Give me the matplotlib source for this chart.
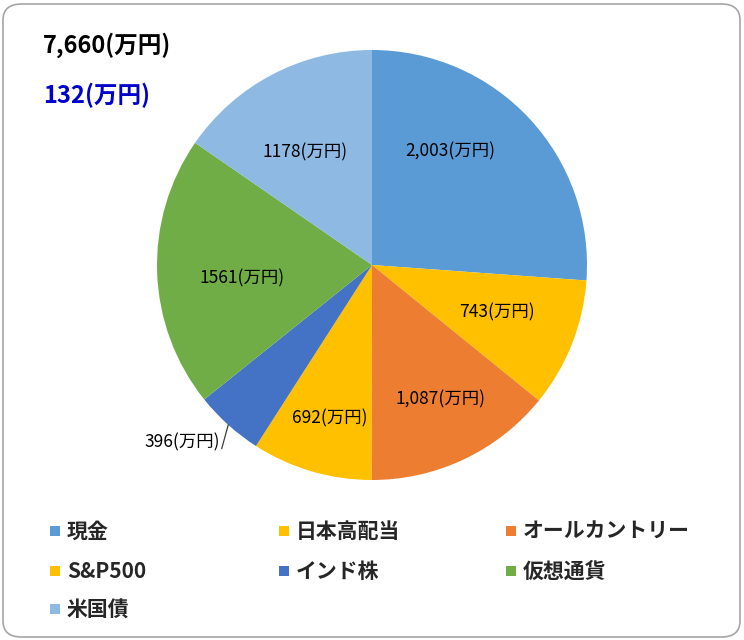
import matplotlib
matplotlib.use("Agg")
import matplotlib.pyplot as plt
import numpy as np
from matplotlib.patches import FancyBboxPatch, Rectangle

plt.rcParams['font.family'] = ['Noto Sans CJK JP', 'DejaVu Sans']

categories = ["現金", "日本高配当", "オールカントリー", "S&P500", "インド株", "仮想通貨", "米国債"]
values = [2003, 743, 1087, 692, 396, 1561, 1178]
value_labels = ["2,003(万円)", "743(万円)", "1,087(万円)", "692(万円)", "396(万円)", "1561(万円)", "1178(万円)"]
colors = ["#5B9BD5", "#FFC000", "#ED7D31", "#FFC000", "#4472C4", "#70AD47", "#8DB9E2"]
total_text = "7,660(万円)"
sub_text = "132(万円)"

# label radial distances (fraction of radius); None -> outside with leader line
label_dist = [0.64, 0.62, 0.70, 0.74, None, 0.61, 0.61]
# angular nudges for label placement (degrees, counter-clockwise)
label_shift = [12.5, 1.0, 1.5, 1.0, 0.0, 4.0, 3.0]

W, H = 744, 640
fig = plt.figure(figsize=(W / 100, H / 100), dpi=100, facecolor='white')

# rounded border
border = FancyBboxPatch((3 / W, 3 / H), (W - 7) / W, (H - 7) / H,
                        boxstyle="round,pad=0,rounding_size=0.025",
                        transform=fig.transFigure, facecolor="none",
                        edgecolor="#A6A6A6", linewidth=1.2, zorder=5)
fig.patches.append(border)

cx, cy, R = 372, 265, 215
ax = fig.add_axes([(cx - R) / W, (H - cy - R) / H, 2 * R / W, 2 * R / H])
wedges, _ = ax.pie(values, colors=colors, startangle=90, counterclock=False,
                   radius=1.0, wedgeprops=dict(linewidth=0))
ax.set_xlim(-1, 1)
ax.set_ylim(-1, 1)
ax.set_aspect('equal')
ax.axis('off')

for w, lab, d, s in zip(wedges, value_labels, label_dist, label_shift):
    mid_deg = (w.theta1 + w.theta2) / 2
    mid = np.deg2rad(mid_deg + s)
    ux, uy = np.cos(mid), np.sin(mid)
    if d is not None:
        ax.text(d * ux, d * uy, lab, ha='center', va='center', fontsize=12.5, color='black')
    else:
        p0 = (ux * 1.0, uy * 1.0)
        p1 = (ux * 1.0 - 0.03, uy * 1.0 - 0.11)
        ax.plot([p0[0], p1[0]], [p0[1], p1[1]], color='#404040', lw=0.9, clip_on=False)
        ax.text(p1[0] - 0.01, p1[1] + 0.03, lab, ha='right', va='center', fontsize=12.5,
                color='black', clip_on=False)

fig.text(43 / W, 1 - 45 / H, total_text, fontsize=17, fontweight='bold', color='black',
         ha='left', va='center')
fig.text(43 / W, 1 - 95 / H, sub_text, fontsize=17, fontweight='bold', color='#0000CC',
         ha='left', va='center')

# legend (row-major, 3 columns)
col_x = [50, 279, 506]
row_y = [531, 571, 609]
sq = 10
for i, (cat, col) in enumerate(zip(categories, colors)):
    r, c = divmod(i, 3)
    x, y = col_x[c], row_y[r]
    fig.patches.append(Rectangle((x / W, (H - y - sq / 2) / H), sq / W, sq / H,
                                 transform=fig.transFigure, facecolor=col, edgecolor='none'))
    fig.text((x + 17) / W, 1 - y / H, cat, fontsize=15, fontweight='bold', color='#262626',
             ha='left', va='center')

fig.savefig("out.png", dpi=100)
